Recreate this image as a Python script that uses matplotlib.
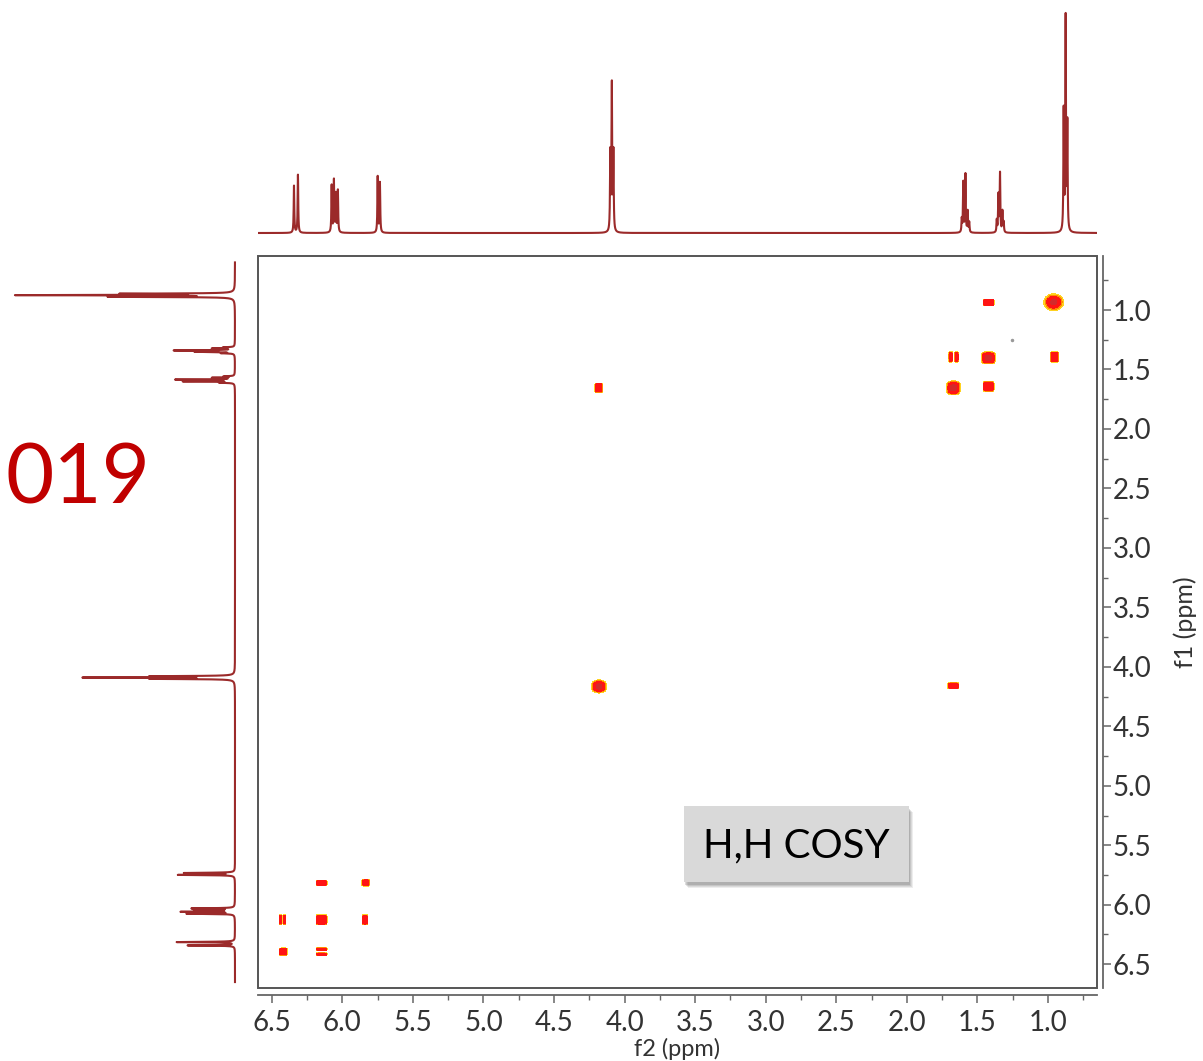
import numpy as np
import matplotlib
matplotlib.use("Agg")
import matplotlib.pyplot as plt
from matplotlib.patches import Rectangle
from matplotlib.ticker import MultipleLocator, FormatStrFormatter

plt.rcParams['font.family'] = ['Lato', 'DejaVu Sans']

# 1H projection lines (ppm, height in px-ish units)
h1_ppm = [6.342, 6.314, 6.075, 6.059, 6.045, 6.031, 5.749, 5.733,
          4.101, 4.090, 4.079,
          1.611, 1.600, 1.585, 1.569, 1.558,
          1.363, 1.351, 1.340, 1.323, 1.314,
          0.889, 0.875, 0.863]
h1_height = [47, 58, 47, 52, 38, 42, 56, 50,
             78, 145, 78,
             13, 50, 58, 21, 10,
             12, 37, 59, 21, 10,
             120, 212, 106]

# COSY cross/diagonal peaks: f2, f1, half widths, intensity, shape exponent
cross_f2 = [0.960, 1.421, 1.690, 1.648, 1.422, 0.954, 1.670, 1.421, 4.183,
            4.181, 1.671, 6.147, 5.834, 6.437, 6.409, 6.147, 5.839, 6.418,
            6.147, 6.147]
cross_f1 = [0.935, 0.937, 1.395, 1.395, 1.402, 1.395, 1.655, 1.643, 1.655,
            4.165, 4.159, 5.817, 5.815, 6.126, 6.126, 6.126, 6.126, 6.395,
            6.374, 6.416]
cross_w2 = [0.071, 0.039, 0.0124, 0.0124, 0.050, 0.028, 0.050, 0.039, 0.027,
            0.053, 0.039, 0.039, 0.028, 0.010, 0.010, 0.039, 0.018, 0.028,
            0.039, 0.039]
cross_w1 = [0.071, 0.027, 0.0445, 0.0445, 0.050, 0.0445, 0.059, 0.042, 0.039,
            0.055, 0.025, 0.021, 0.029, 0.042, 0.042, 0.042, 0.042, 0.031,
            0.011, 0.011]
cross_amp = [1.0, 0.65, 0.55, 0.55, 0.85, 0.55, 0.95, 0.7, 0.55,
             1.0, 0.55, 0.55, 0.8, 0.5, 0.5, 0.6, 0.55, 0.55,
             0.5, 0.5]
cross_p = [2, 8, 8, 8, 4, 8, 3, 6, 8,
           2.5, 8, 8, 4, 8, 8, 8, 8, 8,
           8, 8]

xlim = (6.597, 0.653)
ylim = (6.70, 0.546)
line_col = '#9b2a2a'

W, H = 1203, 1061
fig = plt.figure(figsize=(W / 100, H / 100), dpi=100)


def px_rect(x0, y0, x1, y1):
    return [x0 / W, 1 - y1 / H, (x1 - x0) / W, (y1 - y0) / H]


ax = fig.add_axes(px_rect(258, 256, 1097, 988))
ax_top = fig.add_axes(px_rect(258, 0, 1097, 240))
ax_left = fig.add_axes(px_rect(0, 256, 240, 988))

# 1D spectrum from line list (Lorentzian lines)
grid = np.linspace(0.6, 6.65, 24000)
hw = 0.0025
spec = np.zeros_like(grid)
for c, h in zip(h1_ppm, h1_height):
    spec += h / (1 + ((grid - c) / hw) ** 2)

ax_top.plot(grid, spec, color=line_col, lw=1.5)
ax_top.set_xlim(*xlim)
ax_top.set_ylim(-7, 233)
ax_top.axis('off')

ax_left.plot(spec, grid, color=line_col, lw=1.5)
ax_left.set_ylim(*ylim)
ax_left.set_xlim(235, -5)
ax_left.axis('off')

# 2D contour map
gx = np.linspace(0.65, 6.6, 1800)
gy = np.linspace(0.55, 6.7, 1600)
X, Y = np.meshgrid(gx, gy)
Z = np.zeros_like(X)
for x0, y0, wx, wy, a, p in zip(cross_f2, cross_f1, cross_w2, cross_w1,
                                cross_amp, cross_p):
    m = (np.abs(X - x0) < 2 * wx) & (np.abs(Y - y0) < 2 * wy)
    s = (np.abs(X[m] - x0) / wx) ** p + (np.abs(Y[m] - y0) / wy) ** p
    g = a * 10 ** (-s * np.log10(a / 0.1))
    Z[m] = np.maximum(Z[m], g)

ax.contourf(X, Y, Z, levels=[0.1, 0.2, 0.33, 0.8, 1.1],
            colors=['#ffd21f', '#ff8c00', '#ff1414', '#d42a2a'])
ax.plot([1.257], [1.252], 'o', ms=1.5, color='#999999')

ax.set_xlim(*xlim)
ax.set_ylim(*ylim)
ax.add_patch(Rectangle((0, 0), 1, 1, transform=ax.transAxes, fill=False,
                       ec='#555555', lw=1.4, clip_on=False, zorder=5))
ax.spines['top'].set_visible(False)
ax.spines['left'].set_visible(False)
ax.spines['bottom'].set_position(('outward', 5))
ax.spines['right'].set_position(('outward', 4.3))
for sp in ('bottom', 'right'):
    ax.spines[sp].set_color('#666666')
    ax.spines[sp].set_linewidth(1.3)
ax.yaxis.tick_right()
ax.yaxis.set_label_position('right')
ax.xaxis.set_major_locator(MultipleLocator(0.5))
ax.xaxis.set_minor_locator(MultipleLocator(0.25))
ax.yaxis.set_major_locator(MultipleLocator(0.5))
ax.yaxis.set_minor_locator(MultipleLocator(0.25))
ax.xaxis.set_major_formatter(FormatStrFormatter('%.1f'))
ax.yaxis.set_major_formatter(FormatStrFormatter('%.1f'))
ax.tick_params(which='major', direction='out', length=6, width=1.1,
               color='#666666', labelsize=20, labelcolor='#333333')
ax.tick_params(which='minor', direction='out', length=3.5, width=1.0,
               color='#666666')
ax.tick_params(axis='x', which='major', pad=5)
ax.tick_params(axis='y', which='major', pad=1)
ax.set_xlabel('f2 (ppm)', fontsize=17, color='#333333', labelpad=1)
ax.set_ylabel('f1 (ppm)', fontsize=18, color='#333333', labelpad=16)

# label box
bx0, by0, bx1, by1 = 684, 806, 909, 882
for i, al in enumerate([0.10, 0.12, 0.15, 0.2]):
    off = 6 - i
    fig.patches.append(Rectangle(((bx0 + off - 2) / W, 1 - (by1 + off) / H),
                                 (bx1 - bx0) / W, (by1 - by0) / H,
                                 transform=fig.transFigure, fc='#555555',
                                 ec='none', alpha=al, zorder=8))
fig.patches.append(Rectangle((bx0 / W, 1 - by1 / H), (bx1 - bx0) / W,
                             (by1 - by0) / H, transform=fig.transFigure,
                             fc='#d9d9d9', ec='none', zorder=9))
fig.text((bx0 + bx1) / 2 / W, 1 - 846 / H, 'H,H COSY', ha='center',
         va='center', fontsize=29, color='black', zorder=10)

fig.text(5 / W, 1 - 503 / H, '019', ha='left', va='baseline', fontsize=60,
         color='#c00000')

fig.savefig('out.png', dpi=100)
